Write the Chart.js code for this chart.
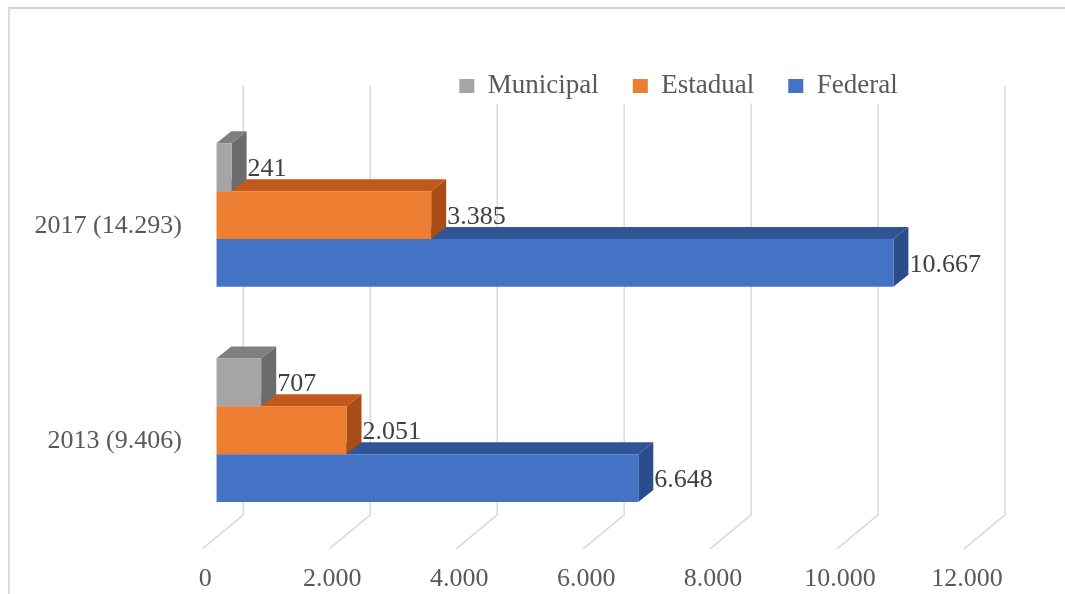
<!DOCTYPE html>
<html><head><meta charset="utf-8">
<script src="https://cdn.jsdelivr.net/npm/chart.js@4.4.0/dist/chart.umd.min.js"></script>
<style>
html,body{margin:0;padding:0;background:#fff;}
#wrap{position:relative;width:1065px;height:594px;overflow:hidden;}
#frame{position:absolute;left:8px;top:7px;width:1100px;height:700px;border-left:2px solid #dcdcdc;border-top:2px solid #d4d4d4;}
canvas{position:absolute;left:0;top:0;}
</style></head><body>
<div id="wrap"><div id="frame"></div><canvas id="c" width="1065" height="594"></canvas></div>
<script>
const categories = ['2017 (14.293)', '2013 (9.406)'];
const seriesNames = ['Municipal', 'Estadual', 'Federal'];
const municipal = [241, 707];
const estadual = [3385, 2051];
const federal = [10667, 6648];
const xTicks = [0, 2000, 4000, 6000, 8000, 10000, 12000];

const frontColors = ['#A5A5A5', '#ED7D31', '#4472C4'];
const topColors = ['#7f7f7f', '#c0591b', '#2f5597'];
const sideColors = ['#6b6b6b', '#a94d15', '#2b4d8c'];
const FONT = 'Liberation Serif, Times New Roman, serif';

function fmt(v) { return String(Math.round(v)).replace(/\B(?=(\d{3})+(?!\d))/g, '.'); }

const DX = 15, DY = -12;

const bar3d = {
  id: 'bar3d',
  afterLayout(chart) {
    const lg = chart.legend;
    if (!lg) return;
    const p = lg.options.labels.padding;
    lg.left = chart.chartArea.left + 243 - p;
    lg.right = chart.width;
    lg.width = lg.right - lg.left;
    lg.top += 2;
    lg.bottom += 2;
  },
  beforeDraw(chart) {
    const ctx = chart.ctx, ca = chart.chartArea, xs = chart.scales.x;
    ctx.save();
    ctx.strokeStyle = '#d9d9d9';
    ctx.lineWidth = 1.5;
    xs.ticks.forEach(t => {
      const bx = xs.getPixelForValue(t.value) + 27;
      ctx.beginPath();
      ctx.moveTo(bx, ca.top - 22);
      ctx.lineTo(bx, ca.bottom - 23);
      ctx.lineTo(bx - 41, ca.bottom + 11);
      ctx.stroke();
    });
    // white legend background, as in the original
    const lg = chart.legend;
    if (lg && lg.legendHitBoxes && lg.legendHitBoxes.length) {
      const hb = lg.legendHitBoxes;
      const first = hb[0], last = hb[hb.length - 1];
      ctx.fillStyle = '#ffffff';
      ctx.fillRect(first.left - 6, first.top - 4, last.left + last.width - first.left + 12, first.height + 8);
    }
    ctx.restore();
  },
  beforeDatasetDraw(chart, args) {
    const ctx = chart.ctx, i = args.index;
    ctx.save();
    args.meta.data.forEach(el => {
      const p = el.getProps(['x', 'y', 'base', 'height'], true);
      const t = p.y - p.height / 2, b = p.y + p.height / 2;
      ctx.fillStyle = sideColors[i];
      ctx.beginPath();
      ctx.moveTo(p.x, t); ctx.lineTo(p.x + DX, t + DY); ctx.lineTo(p.x + DX, b + DY); ctx.lineTo(p.x, b);
      ctx.closePath(); ctx.fill();
      ctx.fillStyle = topColors[i];
      ctx.beginPath();
      ctx.moveTo(p.base, t); ctx.lineTo(p.x, t); ctx.lineTo(p.x + DX, t + DY); ctx.lineTo(p.base + DX, t + DY);
      ctx.closePath(); ctx.fill();
    });
    ctx.restore();
  },
  afterDatasetsDraw(chart) {
    const ctx = chart.ctx;
    ctx.save();
    ctx.font = '26px ' + FONT;
    ctx.fillStyle = '#404040';
    ctx.textAlign = 'left';
    ctx.textBaseline = 'middle';
    chart.data.datasets.forEach((ds, i) => {
      chart.getDatasetMeta(i).data.forEach((el, j) => {
        const p = el.getProps(['x', 'y'], true);
        ctx.fillText(fmt(ds.data[j]), p.x + DX + 1, p.y + 2);
      });
    });
    ctx.restore();
  }
};

const seriesData = [municipal, estadual, federal];
new Chart(document.getElementById('c'), {
  type: 'bar',
  data: {
    labels: categories,
    datasets: seriesNames.map((n, i) => ({
      label: n,
      data: seriesData[i],
      backgroundColor: frontColors[i],
      borderWidth: 0,
      categoryPercentage: 0.667,
      barPercentage: 1
    }))
  },
  options: {
    indexAxis: 'y',
    responsive: false,
    animation: false,
    devicePixelRatio: 1,
    layout: { padding: { left: 0, right: 87, top: 36.5, bottom: -27 } },
    scales: {
      x: {
        min: 0, max: 12000,
        afterBuildTicks: s => { s.ticks = xTicks.map(v => ({ value: v })); },
        grid: { display: false, drawTicks: false },
        border: { display: false },
        ticks: { callback: v => fmt(v), font: { family: FONT, size: 26 }, color: '#595959', padding: 26, labelOffset: -11, maxRotation: 0, autoSkip: false }
      },
      y: {
        grid: { display: false, drawTicks: false },
        border: { display: false },
        ticks: { font: { family: FONT, size: 26 }, color: '#595959', padding: 34.5, labelOffset: 11 }
      }
    },
    plugins: {
      legend: {
        position: 'top', align: 'start',
        labels: { boxWidth: 15, boxHeight: 14, padding: 34, font: { family: FONT, size: 27 }, color: '#595959' }
      },
      tooltip: { enabled: false }
    }
  },
  plugins: [bar3d]
});
</script>
</body></html>
